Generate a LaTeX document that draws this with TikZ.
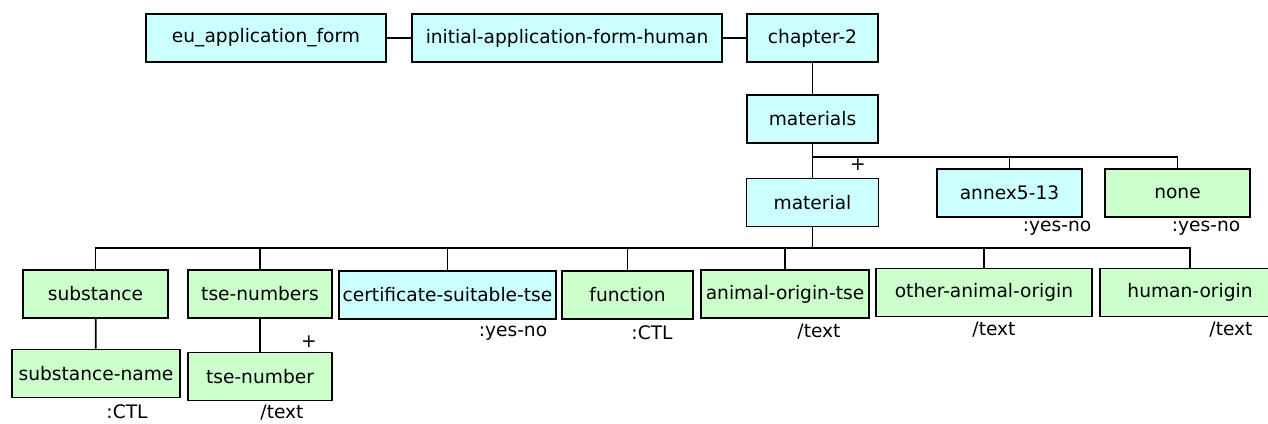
\documentclass[tikz,border=0pt]{standalone}
\usepackage{fontspec}
\setmainfont{DejaVu Sans}
\definecolor{elemblue}{HTML}{CCFFFF}
\definecolor{elemgreen}{HTML}{CCFFCC}
\begin{document}
\begin{tikzpicture}[x=0.02cm, y=-0.02cm, line width=1pt,
    font=\fontsize{10.6}{12}\selectfont,
    elem/.style={draw, inner sep=0pt, minimum height=0.96cm},
    blueelem/.style={elem, fill=elemblue},
    greenelem/.style={elem, fill=elemgreen},
    typelabel/.style={inner sep=0pt}]
    \clip (0,0) rectangle (1268,423);

    % top row
    \node[blueelem, minimum width=4.8cm] (euform) at (266,38) {eu\_application\_form};
    \node[blueelem, minimum width=6.2cm] (initform) at (567,38) {initial-application-form-human};
    \node[blueelem, minimum width=2.62cm] (chapter) at (812.5,38) {chapter-2};
    \node[blueelem, minimum width=2.62cm] (materials) at (812.5,119) {materials};

    % children of materials
    \coordinate (busA) at (812.5,157);
    \node[blueelem, minimum width=2.64cm] (material) at (812.5,202.5) {material};
    \node[blueelem, minimum width=2.9cm] (annex) at (1009.5,193) {annex5-13};
    \node[greenelem, minimum width=2.9cm] (none) at (1177.5,193) {none};
    \node[typelabel] (annexT) at (1057,228) {:yes-no};
    \node[typelabel] (noneT) at (1206,228) {:yes-no};
    \node[typelabel] (matplus) at (858,165) {+};

    % children of material
    \coordinate (busB) at (812.5,248);
    \node[greenelem, minimum width=2.9cm] (substance) at (95.5,294) {substance};
    \node[greenelem, minimum width=2.88cm] (tsenumbers) at (260,294) {tse-numbers};
    \node[blueelem, minimum width=4.34cm] (certificate) at (447.5,295) {certificate-suitable-tse};
    \node[greenelem, minimum width=2.62cm] (function) at (627.5,295) {function};
    \node[greenelem, minimum width=3.36cm] (animaltse) at (785,294) {animal-origin-tse};
    \node[greenelem, minimum width=4.32cm] (otheranimal) at (984,292.5) {other-animal-origin};
    \node[greenelem, minimum width=3.6cm] (humanorigin) at (1190,292.5) {human-origin};
    \node[typelabel] (certificateT) at (513,333) {:yes-no};
    \node[typelabel] (functionT) at (652,333) {:CTL};
    \node[typelabel] (animaltseT) at (819,332) {/text};
    \node[typelabel] (otheranimalT) at (994,330) {/text};
    \node[typelabel] (humanoriginT) at (1231,330) {/text};

    % third level
    \node[greenelem, minimum width=3.36cm] (substancename) at (96,373.5) {substance-name};
    \node[greenelem, minimum width=2.88cm] (tsenumber) at (260,376.5) {tse-number};
    \node[typelabel] (substancenameT) at (127,412) {:CTL};
    \node[typelabel] (tsenumberT) at (282,413) {/text};
    \node[typelabel] (tseplus) at (309,342) {+};

    \draw (euform) -- (initform);
    \draw (initform) -- (chapter);
    \draw (chapter) -- (materials);
    \draw (materials) -- (material);
    \draw (annex.north) |- (busA);
    \draw (none.north) |- (busA);
    \draw (material) -- (busB);
    \foreach \child in {substance, tsenumbers, certificate, function, animaltse, otheranimal, humanorigin}
        \draw (\child.north) |- (busB);
    \draw (substance) -- (substancename);
    \draw (tsenumbers) -- (tsenumber);
\end{tikzpicture}
\end{document}
